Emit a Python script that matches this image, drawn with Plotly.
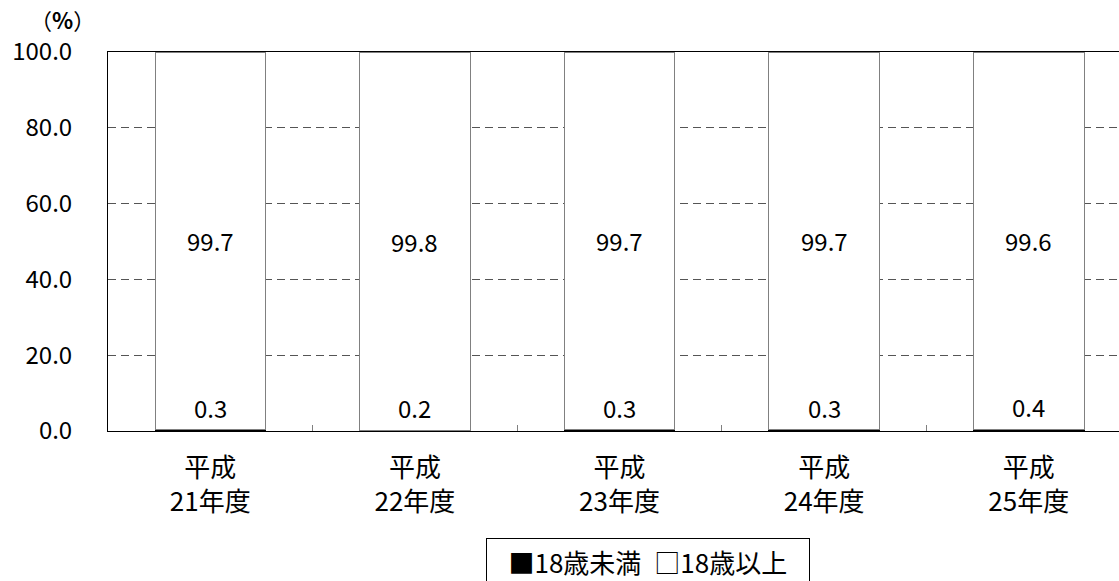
import plotly.graph_objects as go

categories = ["平成<br>21年度", "平成<br>22年度", "平成<br>23年度", "平成<br>24年度", "平成<br>25年度"]
under18 = [0.3, 0.2, 0.3, 0.3, 0.4]
over18 = [99.7, 99.8, 99.7, 99.7, 99.6]
series_names = ["18歳未満", "18歳以上"]
yticks = [0, 20, 40, 60, 80, 100]

FONT = "Noto Sans CJK JP"

fig = go.Figure()
fig.add_trace(go.Bar(x=categories, y=under18, name=series_names[0],
                     marker=dict(color="black", line=dict(color="black", width=1)),
                     width=0.54))
fig.add_trace(go.Bar(x=categories, y=over18, name=series_names[1],
                     marker=dict(color="white", line=dict(color="#808080", width=1)),
                     width=0.54))

for c, a, b in zip(categories, under18, over18):
    fig.add_annotation(x=c, y=a, text=f"{a:.1f}", showarrow=False,
                       yanchor="bottom", yshift=3, font=dict(size=24, color="black", family=FONT))
    fig.add_annotation(x=c, y=a + b / 2, text=f"{b:.1f}", showarrow=False,
                       font=dict(size=24, color="black", family=FONT))

# axis unit
fig.add_annotation(xref="paper", yref="paper", x=-0.011, y=1.0, yshift=15,
                   xanchor="right", yanchor="bottom", text="（<b>%</b>）",
                   showarrow=False, font=dict(size=22, color="black", family=FONT))

# legend box (text legend as in reference)
fig.add_annotation(xref="paper", yref="paper", x=0.534, y=-0.282,
                   xanchor="center", yanchor="top",
                   text=f"\u00a0\u00a0\u00a0■{series_names[0]}\u2002□{series_names[1]}\u00a0\u00a0\u00a0",
                   showarrow=False, bordercolor="black", borderwidth=1, borderpad=4,
                   bgcolor="white", font=dict(size=26, color="black", family=FONT))

fig.update_layout(
    width=1119, height=581,
    margin=dict(l=108, r=0, t=52, b=150),
    barmode="stack",
    plot_bgcolor="white", paper_bgcolor="white",
    font=dict(family=FONT, size=24, color="black"),
    showlegend=False,
    xaxis=dict(range=[-0.5, 4.441], showline=True, linecolor="black", linewidth=1,
               mirror=True, ticks="inside", tickson="boundaries", ticklen=6,
               tickcolor="#808080", showgrid=False, ticklabelstandoff=14,
               tickfont=dict(size=26, family=FONT)),
    yaxis=dict(range=[0, 100], tickvals=yticks, tickformat=".1f",
               showline=True, linecolor="black", linewidth=1,
               showgrid=True, gridcolor="#555555", griddash="8px,5px", gridwidth=1,
               zeroline=False, ticks="", ticklabelstandoff=30,
               tickfont=dict(size=24, family=FONT)),
)

fig.write_html("out.html")
